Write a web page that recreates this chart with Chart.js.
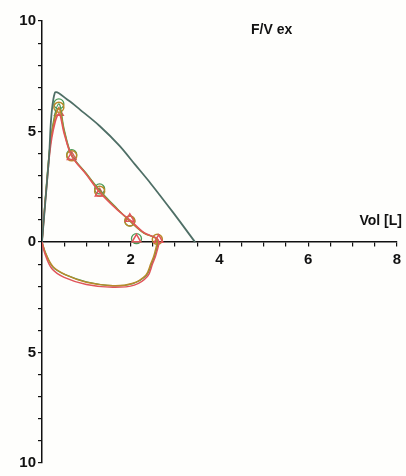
<!DOCTYPE html>
<html>
<head>
<meta charset="utf-8">
<script src="https://cdn.jsdelivr.net/npm/chart.js@4.4.1/dist/chart.umd.min.js"></script>
<style>
  html, body { margin: 0; padding: 0; background: #fefefc; }
  #wrap { width: 406px; height: 476px; }
</style>
</head>
<body>
<div id="wrap"><canvas id="fv"></canvas></div>
<script>
// Courbe théorique (prédite) - volume [L] / débit [L/s]
const predVol  = [0, 0.15, 0.29, 0.6, 0.85, 1.3, 1.75, 2.1, 2.45, 2.95, 3.45];
const predFlow = [0, 3.6, 6.75, 6.4, 6.0, 5.25, 4.35, 3.5, 2.65, 1.35, 0];

// Trois essais mesurés (boucle expi + inspi)
const trialGreenVol  = [0, 0.1, 0.22, 0.38, 0.5, 0.67, 1.0, 1.3, 1.7, 1.98, 2.3, 2.6, 2.56, 2.47, 2.36, 2.05, 1.6, 1.0, 0.55, 0.25, 0.08, 0];
const trialGreenFlow = [0, 2.6, 5.0, 6.25, 5.1, 3.95, 3.1, 2.35, 1.5, 0.95, 0.4, 0.12, -0.5, -1.0, -1.5, -1.88, -1.98, -1.8, -1.5, -1.15, -0.5, 0];
const trialRedVol    = [0, 0.1, 0.22, 0.38, 0.5, 0.67, 1.0, 1.3, 1.7, 1.98, 2.3, 2.62, 2.58, 2.49, 2.38, 2.08, 1.6, 1.0, 0.5, 0.22, 0.06, 0];
const trialRedFlow   = [0, 2.4, 4.7, 5.8, 4.9, 3.9, 3.05, 2.25, 1.45, 1.0, 0.42, 0.1, -0.5, -1.0, -1.55, -1.95, -2.05, -1.92, -1.6, -1.2, -0.5, 0];
const trialOrangeVol  = [0, 0.1, 0.22, 0.38, 0.5, 0.67, 1.0, 1.3, 1.7, 1.98, 2.3, 2.58, 2.54, 2.45, 2.34, 2.03, 1.6, 1.0, 0.55, 0.25, 0.08, 0];
const trialOrangeFlow = [0, 2.5, 4.9, 6.05, 5.0, 3.9, 3.08, 2.3, 1.48, 0.95, 0.4, 0.12, -0.5, -1.0, -1.5, -1.88, -1.98, -1.82, -1.5, -1.12, -0.5, 0];

// Repères sur les courbes (PEF, FEF25, FEF50, FEF75, fin)
const markGreenVol  = [0.38, 0.67, 1.3, 1.98, 2.13];
const markGreenFlow = [6.25, 3.95, 2.4, 0.95, 0.15];
const markOrangeVol  = [0.38, 0.67, 1.3, 1.98, 2.6];
const markOrangeFlow = [6.1, 3.9, 2.3, 0.95, 0.12];
const markRedVol  = [0.38, 0.67, 1.3, 1.98, 2.13, 2.63];
const markRedFlow = [5.85, 3.85, 2.2, 1.05, 0.12, 0.1];

const toXY = (xs, ys) => xs.map((x, i) => ({ x: x, y: ys[i] }));

const textPlugin = {
    id: 'labels',
    afterDraw(chart) {
        const c = chart.ctx;
        c.save();
        c.fillStyle = '#111';
        c.font = 'bold 14px "Liberation Sans", Arial, sans-serif';
        c.textBaseline = 'middle';
        c.textAlign = 'left';
        c.fillText('F/V ex', 251, 30);
        c.textAlign = 'right';
        c.fillText('Vol [L]', 402, 221);
        c.restore();
    }
};

const ctx = document.getElementById('fv').getContext('2d');
new Chart(ctx, {
    type: 'scatter',
    data: {
        datasets: [
            { data: toXY(predVol, predFlow), showLine: true, borderColor: '#4f6f66', borderWidth: 1.8, pointRadius: 0, tension: 0.3 },
            { data: toXY(trialRedVol, trialRedFlow), showLine: true, borderColor: '#e0555a', borderWidth: 1.5, pointRadius: 0, tension: 0.35 },
            { data: toXY(trialOrangeVol, trialOrangeFlow), showLine: true, borderColor: '#b98a2a', borderWidth: 1.5, pointRadius: 0, tension: 0.35 },
            { data: toXY(trialGreenVol, trialGreenFlow), showLine: true, borderColor: '#4a9a55', borderWidth: 1.3, pointRadius: 0, tension: 0.35 },
            { data: toXY(markRedVol, markRedFlow), pointStyle: 'triangle', pointRadius: 5, borderColor: '#e0555a', backgroundColor: 'rgba(0,0,0,0)', borderWidth: 1.5 },
            { data: toXY(markOrangeVol, markOrangeFlow), pointStyle: 'circle', pointRadius: 5, borderColor: '#b98a2a', backgroundColor: 'rgba(0,0,0,0)', borderWidth: 1.5 },
            { data: toXY(markGreenVol, markGreenFlow), pointStyle: 'circle', pointRadius: 5, borderColor: '#4a9a55', backgroundColor: 'rgba(0,0,0,0)', borderWidth: 1.3 }
        ]
    },
    options: {
        responsive: true,
        maintainAspectRatio: false,
        animation: false,
        layout: { padding: { top: 21, bottom: 13, right: 5, left: 0 } },
        plugins: { legend: { display: false }, tooltip: { enabled: false } },
        scales: {
            x: {
                type: 'linear',
                min: 0, max: 8,
                position: { y: 0 },
                border: { display: true, color: '#111', width: 1.5 },
                grid: { display: true, drawOnChartArea: false, drawTicks: true, tickLength: 4, color: '#111', lineWidth: 1.2 },
                ticks: {
                    stepSize: 0.5,
                    autoSkip: false,
                    maxRotation: 0,
                    padding: 5,
                    color: '#111',
                    font: { family: '"Liberation Sans", Arial, sans-serif', size: 15, weight: 'bold' },
                    callback: v => (v > 0 && v % 2 === 0) ? String(v) : ''
                }
            },
            y: {
                type: 'linear',
                min: -10, max: 10,
                position: 'left',
                afterFit: s => { s.width = 42; },
                border: { display: true, color: '#111', width: 1.5 },
                grid: { display: true, drawOnChartArea: false, drawTicks: true, tickLength: 4, color: '#111', lineWidth: 1.2 },
                ticks: {
                    stepSize: 1,
                    autoSkip: false,
                    padding: 2,
                    color: '#111',
                    font: { family: '"Liberation Sans", Arial, sans-serif', size: 15, weight: 'bold' },
                    callback: v => (v % 5 === 0) ? String(Math.abs(v)) : ''
                }
            }
        }
    },
    plugins: [textPlugin]
});
</script>
</body>
</html>
